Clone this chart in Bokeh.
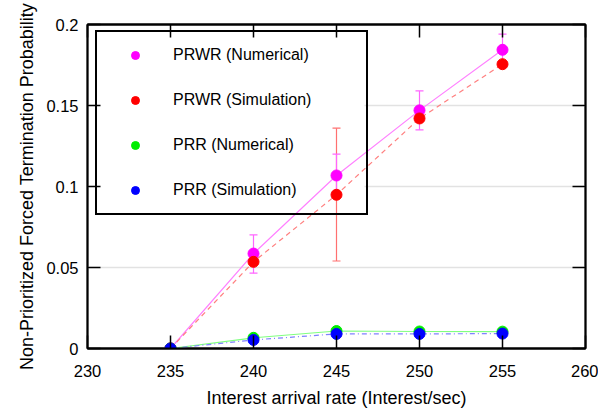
from bokeh.plotting import figure
from bokeh.models import (ColumnDataSource, Whisker, TeeHead, LinearAxis, FixedTicker,
                          Legend, LegendItem, BoxAnnotation)
from bokeh.embed import file_html
from bokeh.resources import INLINE

rate = [235, 240, 245, 250, 255]
prwr_num = [0.0, 0.0586, 0.1068, 0.147, 0.1844]
prwr_num_lo = [0.0, 0.0465, 0.094, 0.135, 0.175]
prwr_num_hi = [0.0, 0.0701, 0.120, 0.159, 0.194]
prwr_sim = [0.0, 0.0535, 0.0949, 0.142, 0.1755]
prwr_sim_lo = [0.0, 0.052, 0.054, 0.140, 0.174]
prwr_sim_hi = [0.0, 0.055, 0.136, 0.144, 0.177]
prr_num = [0.0, 0.0066, 0.0108, 0.0105, 0.0104]
prr_sim = [0.0, 0.0053, 0.0090, 0.0090, 0.0092]
x_ticks = [230, 235, 240, 245, 250, 255, 260]
y_ticks = [0, 0.05, 0.1, 0.15, 0.2]
y_tick_labels = ["0", "0.05", "0.1", "0.15", "0.2"]
series_labels = ["PRWR (Numerical)", "PRWR (Simulation)", "PRR (Numerical)", "PRR (Simulation)"]
series_colors = ["#ff00ff", "#ff0000", "#00ee00", "#0000ff"]

FONT = "Liberation Sans"
X0, X1 = 230, 260
Y0, Y1 = 0, 0.2
W, H = 598, 412
BL, BR, BT, BB = 87, 13, 24, 64

p = figure(width=W, height=H, x_range=(X0, X1), y_range=(Y0, Y1),
           output_backend="svg", toolbar_location=None,
           min_border_left=BL, min_border_right=BR, min_border_top=BT, min_border_bottom=BB,
           x_axis_label="Interest arrival rate (Interest/sec)",
           y_axis_label="Non-Prioritized Forced Termination Probability")

p.outline_line_color = "black"
p.outline_line_width = 1.8
p.xgrid.grid_line_color = None
p.ygrid.grid_line_color = "#e2e2e2"
p.ygrid.grid_line_width = 1.5
p.background_fill_color = "white"

def style_axis(ax, labels=True):
    ax.axis_line_color = "black"
    ax.axis_line_width = 1.8
    ax.major_tick_in = 13
    ax.major_tick_out = 0
    ax.major_tick_line_color = "black"
    ax.major_tick_line_width = 1.5
    ax.minor_tick_line_color = None
    ax.major_label_text_font = FONT
    if labels:
        ax.major_label_text_color = "black"
        ax.major_label_text_font_size = "16.5px"
    else:
        ax.major_label_text_color = None
        ax.major_label_text_font_size = "1px"
        ax.major_label_standoff = 0

p.xaxis.ticker = FixedTicker(ticks=x_ticks)
p.yaxis.ticker = FixedTicker(ticks=y_ticks)
p.yaxis.major_label_overrides = {t: l for t, l in zip(y_ticks, y_tick_labels)}
style_axis(p.xaxis[0])
style_axis(p.yaxis[0])
p.xaxis.major_label_standoff = 16
p.yaxis.major_label_standoff = 9
for ax in (p.xaxis[0], p.yaxis[0]):
    ax.axis_label_text_font = FONT
    ax.axis_label_text_font_size = "18px"
    ax.axis_label_text_font_style = "normal"
    ax.axis_label_text_color = "black"
p.xaxis.axis_label_standoff = 8
p.yaxis.axis_label_standoff = 6

top = LinearAxis(ticker=FixedTicker(ticks=x_ticks))
right = LinearAxis(ticker=FixedTicker(ticks=y_ticks))
style_axis(top, labels=False)
style_axis(right, labels=False)
p.add_layout(top, "above")
p.add_layout(right, "right")

# legend geometry (screen px relative to frame)
LG_LEFT, LG_BOTTOM, LG_W, LG_H = 8, 133, 269, 181
frame_w = W - BL - BR
frame_h = H - BT - BB

# white legend background drawn beneath the data (hides grid lines)
bg = BoxAnnotation(left=X0 + LG_LEFT * (X1 - X0) / frame_w,
                   right=X0 + (LG_LEFT + LG_W) * (X1 - X0) / frame_w,
                   bottom=Y0 + LG_BOTTOM * (Y1 - Y0) / frame_h,
                   top=Y0 + (LG_BOTTOM + LG_H) * (Y1 - Y0) / frame_h,
                   fill_color="white", fill_alpha=1.0, line_color=None, level="underlay")
p.add_layout(bg)

nan = float("nan")
dummies = []
for c in series_colors:
    r = p.scatter(x=[nan], y=[nan], size=7, fill_color=c, line_color=c)
    dummies.append(r)
legend = Legend(items=[LegendItem(label=l, renderers=[r]) for l, r in zip(series_labels, dummies)],
                location=(LG_LEFT, LG_BOTTOM), padding=13, spacing=25, label_height=20,
                glyph_height=20, glyph_width=50, label_standoff=13, label_width=180, margin=0,
                border_line_color="black", border_line_width=2, border_line_alpha=1.0,
                background_fill_alpha=0.0,
                label_text_font=FONT, label_text_font_size="16px", label_text_color="black")
p.add_layout(legend)

src = ColumnDataSource(dict(x=rate, mn=prwr_num, mlo=prwr_num_lo, mhi=prwr_num_hi,
                            sn=prwr_sim, slo=prwr_sim_lo, shi=prwr_sim_hi,
                            gn=prr_num, bn=prr_sim))

# error bars
w1 = Whisker(source=src, base="x", lower="slo", upper="shi", line_color="#ff7070", line_width=1.2,
             upper_head=TeeHead(size=8, line_color="#ff7070", line_width=1.2),
             lower_head=TeeHead(size=8, line_color="#ff7070", line_width=1.2), level="underlay")
w2 = Whisker(source=src, base="x", lower="mlo", upper="mhi", line_color="#ff66ff", line_width=1.2,
             upper_head=TeeHead(size=8, line_color="#ff66ff", line_width=1.2),
             lower_head=TeeHead(size=8, line_color="#ff66ff", line_width=1.2), level="underlay")
p.add_layout(w1)
p.add_layout(w2)

# lines
p.line("x", "mn", source=src, line_color="#ff80ff", line_width=1.2)
p.line("x", "sn", source=src, line_color="#ff8080", line_width=1.2, line_dash="5 4")
p.line("x", "gn", source=src, line_color="#80ff80", line_width=1.2)
p.line("x", "bn", source=src, line_color="#8080ff", line_width=1.2, line_dash="5 3 1 3")

# points
for col, c in zip(["mn", "sn", "gn", "bn"], series_colors):
    p.scatter("x", col, source=src, size=11, fill_color=c, line_color=c)

open("out.html", "w").write(file_html(p, INLINE))
